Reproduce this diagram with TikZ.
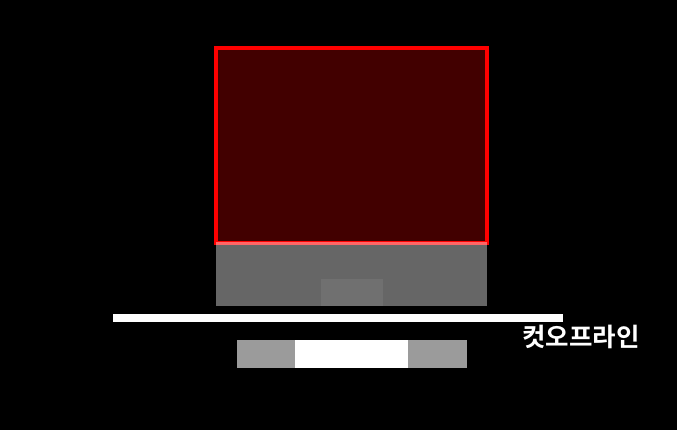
\documentclass[tikz,border=0pt]{standalone}
\usepackage{fontspec}
\newfontfamily\kofont{Noto Sans CJK KR}[BoldFont={Noto Sans CJK KR Bold}]
\usetikzlibrary{positioning}
\definecolor{boxred}{HTML}{420000}
\definecolor{innergray}{HTML}{707070}
\definecolor{bargray}{HTML}{9B9B9B}

\begin{document}
\begin{tikzpicture}[x=1pt, y=-1pt]
        \tikzstyle{frame} = [draw=red, line width=3.5pt, fill=boxred],
        \tikzstyle{shade} = [fill=white, fill opacity=0.4],
        \tikzstyle{label} = [text=white, font=\kofont\bfseries\fontsize{25.5}{30}\selectfont, inner sep=0pt],
        % background
        \fill [black] (0,0) rectangle (677,430);
        \useasboundingbox (0,0) rectangle (677,430);

        \coordinate (boxtl) at (216,48);
        \coordinate (boxbr) at (487,243);
        \draw [frame] (boxtl) rectangle (boxbr);

        % lower part
        \coordinate (shadetl) at (216,242);
        \coordinate (shadebr) at (487,306);
        \fill [shade] (shadetl) rectangle (shadebr);
        \fill [innergray] (321,279) rectangle (383,306);

        % cut-off line
        \coordinate (linestart) at (113,314);
        \coordinate (lineend) at (563,322);
        \fill [white] (linestart) rectangle (lineend);
        \node [label, name=cutoff] at (581,337) {컷오프라인};

        % bottom bar
        \fill [bargray] (237,340) rectangle (295,368);
        \fill [white] (295,340) rectangle (408,368);
        \fill [bargray] (408,340) rectangle (467,368);
\end{tikzpicture}
\end{document}
